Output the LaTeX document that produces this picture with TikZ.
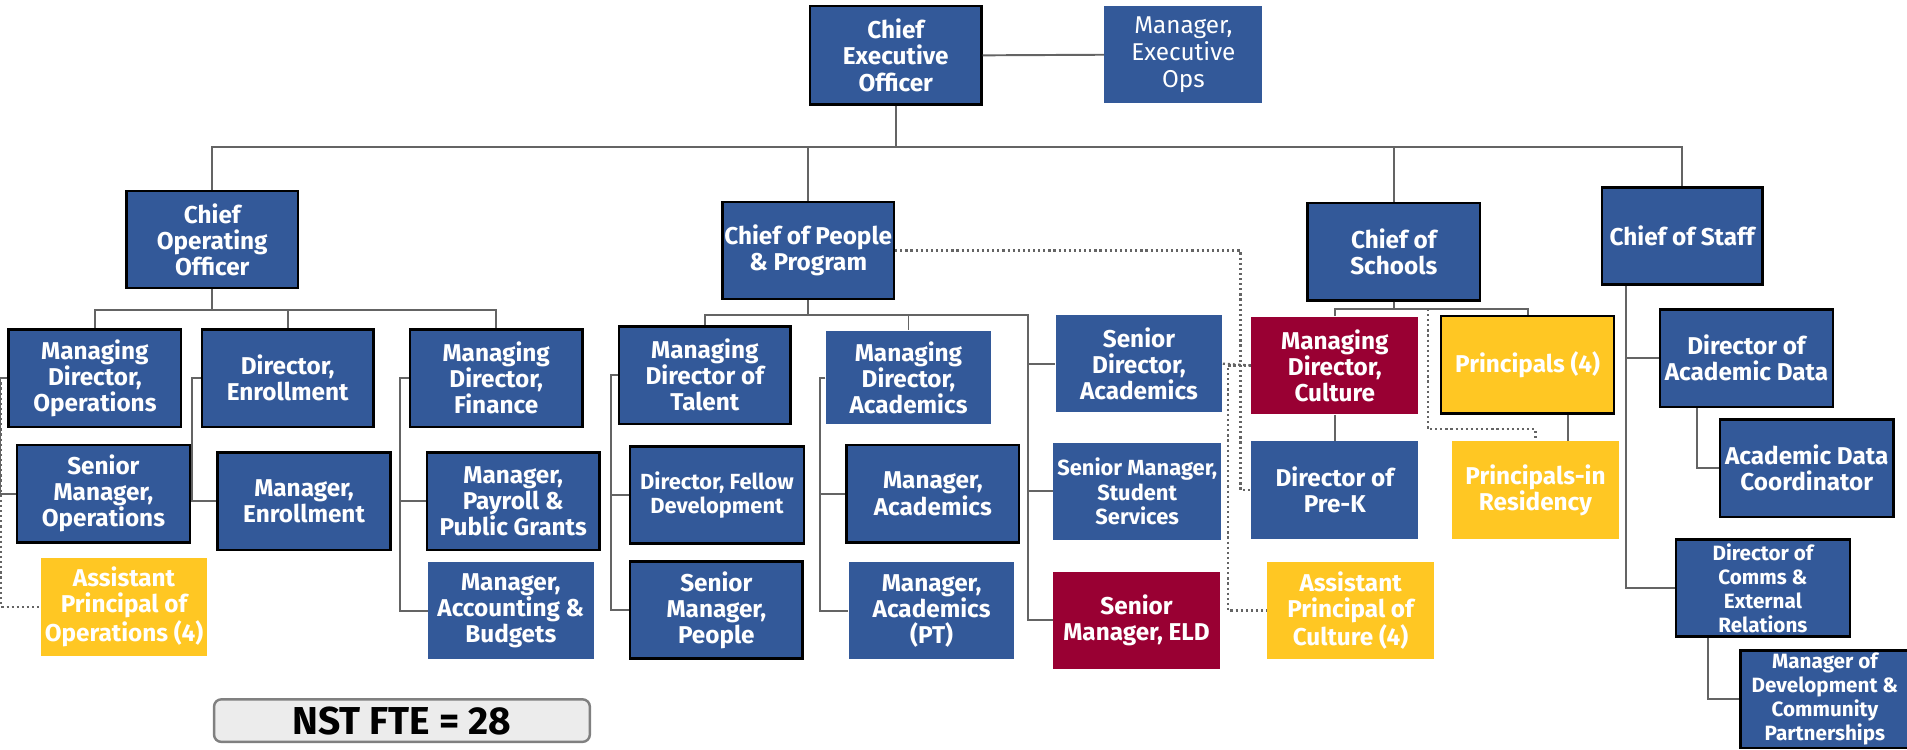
\documentclass[tikz,border=0pt]{standalone}
\usepackage{fontspec}
\setmainfont{Fira Sans}
\usetikzlibrary{calc}

\definecolor{orgblue}{RGB}{51,89,153}
\definecolor{orgred}{RGB}{153,0,51}
\definecolor{orggold}{RGB}{255,199,35}
\definecolor{linegray}{RGB}{100,100,100}

\tikzset{
  box/.style={rectangle, fill=orgblue, text=white, align=center, inner sep=0.5pt,
    font=\bfseries\fontsize{10}{10.7}\selectfont, minimum width=70.5pt, minimum height=40pt},
  wd/.style={minimum width=#1*0.5pt},
  ht/.style={minimum height=#1*0.5pt},
  edged/.style={draw=black, line width=1pt},
  wine/.style={fill=orgred},
  gold/.style={fill=orggold},
  midtext/.style={font=\bfseries\fontsize{9}{10}\selectfont},
  smalltext/.style={font=\bfseries\fontsize{8.5}{9.9}\selectfont},
  link/.style={draw=linegray, line width=0.8pt},
  dotlink/.style={draw=linegray, line width=0.9pt, dash pattern=on 0.9pt off 1.2pt},
}

\begin{document}
\begin{tikzpicture}[x=0.5pt, y=-0.5pt]
    \useasboundingbox (0,0) rectangle (1568,616);

    % Top
    \node[box, edged, ht=81] (ceo) at (736.5,45.5) {Chief\\Executive\\Officer};
    \node[box, wd=130, font=\fontsize{10}{11}\selectfont] (meo) at (973,45) {Manager,\\Executive\\Ops};

    % Chiefs
    \node[box, edged] (coo) at (174.5,197) {Chief\\Operating\\Officer};
    \node[box, edged] (cpp) at (664.5,206) {Chief of People\\\& Program};
    \node[box, edged, wd=142] (cos) at (1146,207) {Chief of\\Schools};
    \node[box, edged, wd=132] (cstaff) at (1383,194) {Chief of Staff};

    % Operations
    \node[box, edged, wd=142] (mdo) at (78,311) {Managing\\Director,\\Operations};
    \node[box, edged, wd=142] (smo) at (85,406) {Senior\\Manager,\\Operations};
    \node[box, gold, wd=136] (apo) at (102,499) {Assistant\\Principal of\\Operations (4)};
    \node[box, edged] (den) at (236.5,311) {Director,\\Enrollment};
    \node[box, edged, wd=142] (men) at (250,412) {Manager,\\Enrollment};
    \node[box, edged, wd=142] (mdf) at (408,311) {Managing\\Director,\\Finance};
    \node[box, edged, wd=142] (mpay) at (422,412) {Manager,\\Payroll \&\\Public Grants};
    \node[box, wd=136] (macc) at (420,502) {Manager,\\Accounting \&\\Budgets};

    % People & Program
    \node[box, edged] (mdt) at (579.5,308.5) {Managing\\Director of\\Talent};
    \node[box, edged, wd=143, midtext] (dfd) at (589.5,407) {Director, Fellow\\Development};
    \node[box, edged, wd=142] (smp) at (589,501.5) {Senior\\Manager,\\People};
    \node[box, wd=136, ht=77] (mda) at (747,310.5) {Managing\\Director,\\Academics};
    \node[box, edged, wd=142] (mac) at (767,406) {Manager,\\Academics};
    \node[box, wd=136] (mapt) at (766,502) {Manager,\\Academics\\(PT)};
    \node[box, wd=137] (sda) at (936.5,299) {Senior\\Director,\\Academics};
    \node[box, wd=138, midtext] (smss) at (935,404) {Senior Manager,\\Student\\Services};
    \node[box, wine, wd=137] (smeld) at (934.5,510) {Senior\\Manager, ELD};

    % Schools
    \node[box, wine, wd=137] (mdc) at (1097.5,300.5) {Managing\\Director,\\Culture};
    \node[box, wd=137] (prek) at (1097.5,403) {Director of\\Pre-K};
    \node[box, gold, wd=137] (apc) at (1110.5,502) {Assistant\\Principal of\\Culture (4)};
    \node[box, gold, edged, wd=142] (prn) at (1256,300) {Principals (4)};
    \node[box, gold, wd=137] (pir) at (1262.5,403) {Principals-in\\Residency};

    % Staff
    \node[box, edged, wd=142] (dad) at (1436,294.5) {Director of\\Academic Data};
    \node[box, edged, wd=143] (adc) at (1485.5,385) {Academic Data\\Coordinator};
    \node[box, edged, wd=143, smalltext] (dcer) at (1449.5,483.5) {Director of\\Comms \&\\External\\Relations};
    \node[box, edged, wd=139, smalltext] (mdcp) at (1500.5,575) {Manager of\\Development \&\\Community\\Partnerships};

    % Count
    \node[draw=gray, fill=gray!15, rounded corners=3pt, line width=1pt, minimum width=154.5pt, minimum height=17.5pt,
      inner sep=0pt, font=\bfseries\fontsize{16}{17}\selectfont] (fte) at (330.5,592.5) {NST FTE = 28};

    % Lines
    \draw[link] (ceo.east) -- (meo.west);
    \foreach \n in {coo,cpp,cos,cstaff}
        \draw[link] (ceo.south) -- ++(0,34) -| (\n.north);
    \foreach \n in {mdo,den,mdf}
        \draw[link] (coo.south) -- ++(0,17) -| (\n.north);
    \draw[link] (mdo.west) -- ++(-6,0) |- (smo.west);
    \draw[link] (den.west) -- ++(-7,0) |- (men.west);
    \foreach \n in {mpay,macc}
        \draw[link] (mdf.west) -- ++(-7,0) |- (\n.west);

    \foreach \n in {mdt,mda}
        \draw[link] (cpp.south) -- ++(0,12) -| (\n.north);
    \coordinate (cppleg) at ($(cpp.south)+(181,12)$);
    \draw[link] (cpp.south) |- (cppleg) |- (smeld.west);
    \draw[link] (cppleg) |- (sda.west);
    \draw[link] (cppleg) |- (smss.west);
    \foreach \n in {dfd,smp}
        \draw[link] (mdt.west) -- ++(-6,0) |- (\n.west);
    \foreach \n in {mac,mapt}
        \draw[link] (mda.west) -- ++(-4,0) |- (\n.west);

    \foreach \n in {mdc,prn}
        \draw[link] (cos.south) -- ++(0,6) -| (\n.north);
    \draw[link] (mdc.south) -- (prek.north);
    \draw[link] ($(prn.south)+(33,0)$) -- ($(pir.north)+(26.5,0)$);

    \coordinate (staffleg) at ($(cstaff.south west)+(21,0)$);
    \draw[link] (staffleg) |- (dad.west);
    \draw[link] (staffleg) |- (dcer.west);
    \draw[link] ($(dad.south west)+(31,0)$) |- (adc.west);
    \draw[link] ($(dcer.south west)+(27,0)$) |- (mdcp.west);

    % Dotted lines
    \draw[dotlink] (mdo.west) -- ++(-5,0) |- (apo.west);
    \draw[dotlink] (cpp.east) -- ++(284,0) |- (prek.west);
    \draw[dotlink] (sda.east) -- (mdc.west);
    \draw[dotlink] (mdc.west) -- ++(-19,0) |- (apc.west);
    \draw[dotlink] ($(cos.south)+(28,6)$) -- ++(0,99) -| (pir.north);
\end{tikzpicture}
\end{document}
